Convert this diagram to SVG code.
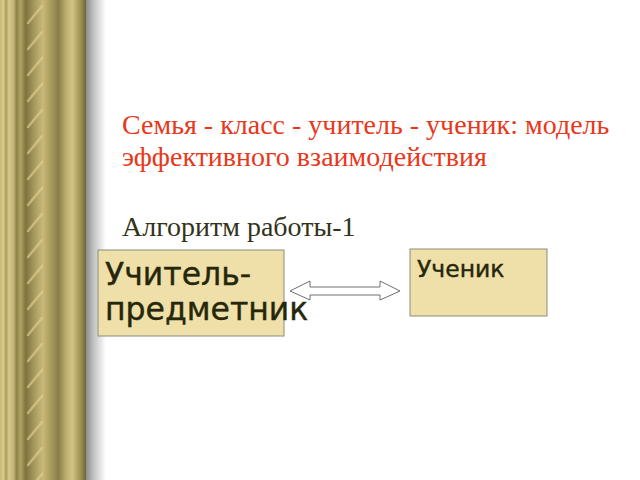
<svg xmlns="http://www.w3.org/2000/svg" width="640" height="480" viewBox="0 0 640 480">
<defs>
<linearGradient id="col" x1="0" y1="0" x2="86" y2="0" gradientUnits="userSpaceOnUse">
<stop offset="0" stop-color="#C9B878"/>
<stop offset="0.04" stop-color="#DCCD8C"/>
<stop offset="0.07" stop-color="#A89A5C"/>
<stop offset="0.10" stop-color="#D6C788"/>
<stop offset="0.16" stop-color="#C4B576"/>
<stop offset="0.19" stop-color="#8E8248"/>
<stop offset="0.24" stop-color="#B0A262"/>
<stop offset="0.30" stop-color="#7E7240"/>
<stop offset="0.40" stop-color="#A89A5E"/>
<stop offset="0.50" stop-color="#C8B87A"/>
<stop offset="0.60" stop-color="#A69858"/>
<stop offset="0.68" stop-color="#8A7E48"/>
<stop offset="0.76" stop-color="#B8AA6A"/>
<stop offset="0.84" stop-color="#D4C586"/>
<stop offset="0.90" stop-color="#B2A464"/>
<stop offset="0.95" stop-color="#968A50"/>
<stop offset="1" stop-color="#6E6438"/>
</linearGradient>
<linearGradient id="shadow" x1="86" y1="0" x2="106" y2="0" gradientUnits="userSpaceOnUse">
<stop offset="0" stop-color="#8C8C8C"/>
<stop offset="0.4" stop-color="#C4C4C4"/>
<stop offset="1" stop-color="#FFFFFF"/>
</linearGradient>
<pattern id="rope" x="0" y="0" width="60" height="26" patternUnits="userSpaceOnUse">
<path d="M28 23 L42 6" stroke="#E2D494" stroke-width="2.5" stroke-linecap="round" opacity="0.6"/>
</pattern>
<style>
.box{fill:#EEE0A8;stroke:#8C8C7C;stroke-width:1}
.ttl{font-family:"Liberation Serif",serif;font-size:28px;fill:#E8381C}
.sub{font-family:"Liberation Serif",serif;font-size:28px;fill:#33331A}
.lbl{font-family:"DejaVu Sans",sans-serif;fill:#26260A;stroke:#26260A;stroke-width:0.4}
</style>
</defs>
<rect width="640" height="480" fill="#FFFFFF"/>
<g id="column">
<rect x="0" y="0" width="86" height="480" fill="url(#col)"/>
<rect x="0" y="0" width="86" height="480" fill="url(#rope)"/>
<rect x="86" y="0" width="20" height="480" fill="url(#shadow)"/>
</g>
<g id="title">
<text class="ttl" x="122" y="134">Семья - класс - учитель - ученик: модель</text>
<text class="ttl" x="122" y="166">эффективного взаимодействия</text>
<text class="sub" x="122" y="236">Алгоритм работы-1</text>
</g>
<g id="connectors">
<path d="M290 291 L310 281 L310 287 L380 287 L380 281 L400 291 L380 300 L380 295 L310 295 L310 300 Z" fill="#FFFFFF" stroke="#6E6E6E" stroke-width="1"/>
</g>
<g id="node-teacher">
<rect class="box" x="98" y="250" width="186" height="86"/>
<text class="lbl" x="105" y="285" font-size="31.5">Учитель-</text>
<text class="lbl" x="105" y="320" font-size="31.5">предметник</text>
</g>
<g id="node-student">
<rect class="box" x="410" y="249" width="137" height="67"/>
<text class="lbl" x="417" y="277" font-size="23.5">Ученик</text>
</g>
</svg>
